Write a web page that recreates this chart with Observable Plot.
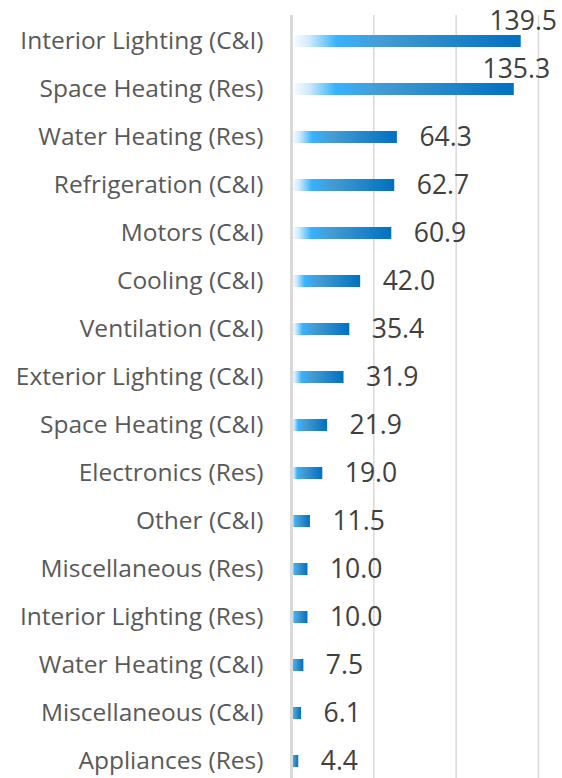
<!DOCTYPE html>
<html><head><meta charset="utf-8">
<script src="https://cdn.jsdelivr.net/npm/d3@7"></script>
<script src="https://cdn.jsdelivr.net/npm/@observablehq/plot@0.6"></script>
<style>html,body{margin:0;padding:0;background:#fff}</style>
</head><body><div id="chart"></div>
<script>
const categories = [
  "Interior Lighting (C&I)", "Space Heating (Res)", "Water Heating (Res)", "Refrigeration (C&I)",
  "Motors (C&I)", "Cooling (C&I)", "Ventilation (C&I)", "Exterior Lighting (C&I)",
  "Space Heating (C&I)", "Electronics (Res)", "Other (C&I)", "Miscellaneous (Res)",
  "Interior Lighting (Res)", "Water Heating (C&I)", "Miscellaneous (C&I)", "Appliances (Res)"
];
const values = [139.5, 135.3, 64.3, 62.7, 60.9, 42.0, 35.4, 31.9, 21.9, 19.0, 11.5, 10.0, 10.0, 7.5, 6.1, 4.4];
const gridTicks = [50, 100, 150];

const data = categories.map((c, i) => ({category: c, value: values[i]}));
const fmt = d3.format(".1f");
const W = 562, H = 778, ML = 291, MR = 24;
const xMax = 150;
// does the label fit to the right of the bar?
const pxPerUnit = (W - ML - MR) / xMax;
const fits = d => ML + d.value * pxPerUnit + 22 + 66 <= W;

const plot = Plot.plot({
  width: W, height: H,
  marginLeft: ML, marginRight: MR, marginTop: 15, marginBottom: 0,
  x: {domain: [0, xMax], axis: null},
  y: {domain: categories, range: [15.5, 787.2], padding: 0, label: null, axis: null},
  style: {fontFamily: "'Open Sans', sans-serif", background: "#fff", overflow: "visible"},
  marks: [
    Plot.ruleX(gridTicks, {stroke: "#d9d9d9", strokeWidth: 1.5}),
    Plot.barX(data, {x: "value", y: "category", fill: "url(#barGrad)", insetTop: 18, insetBottom: 18}),
    Plot.ruleX([0], {stroke: "#d9d9d9", strokeWidth: 3}),
    Plot.axisY({tickSize: 0, tickPadding: 28, fontSize: 24.5, fill: "#595959", label: null}),
    Plot.text(data.filter(fits), {x: "value", y: "category", text: d => fmt(d.value), dx: 22, dy: 0, textAnchor: "start", fontSize: 26.5, fill: "#404040"}),
    Plot.text(data.filter(d => !fits(d)), {x: "value", y: "category", text: d => fmt(d.value), dx: 2, dy: -20, textAnchor: "middle", fontSize: 26.5, fill: "#404040"})
  ]
});

d3.select(plot).insert("defs", ":first-child").html(`
  <linearGradient id="barGrad" x1="0" y1="0" x2="1" y2="0">
    <stop offset="0" stop-color="#ffffff"/>
    <stop offset="0.08" stop-color="#cfeafd"/>
    <stop offset="0.2" stop-color="#38b2fd"/>
    <stop offset="0.4" stop-color="#449bd2"/>
    <stop offset="1" stop-color="#0070c0"/>
  </linearGradient>`);

document.getElementById("chart").appendChild(plot);
</script>
</body></html>
